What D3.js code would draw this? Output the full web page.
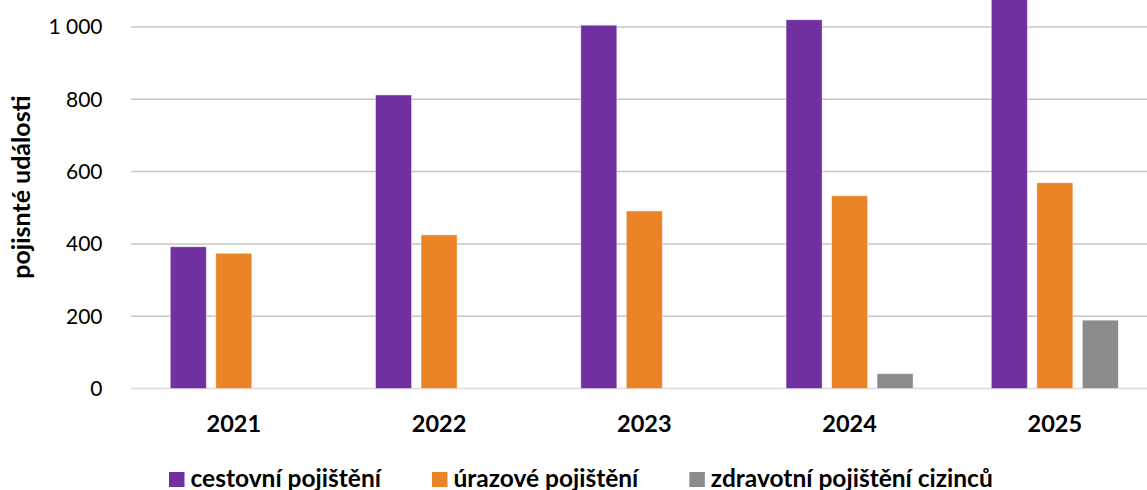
<!DOCTYPE html>
<html>
<head>
<meta charset="utf-8">
<script src="https://cdn.jsdelivr.net/npm/d3@7"></script>
<style>
  body { margin: 0; background: #fff; }
  svg { display: block; font-family: Lato, "Open Sans", sans-serif; }
</style>
</head>
<body>
<svg id="chart" width="1147" height="490"></svg>
<script>
var years = ['2021', '2022', '2023', '2024', '2025'];
var seriesNames = ['cestovní pojištění', 'úrazové pojištění', 'zdravotní pojištění cizinců'];
var cestovni = [392, 812, 1005, 1020, 1130];
var urazove = [374, 425, 491, 533, 569];
var zdravotni = [0, 0, 0, 41, 189];
var yTicks = [0, 200, 400, 600, 800, 1000];
var colors = ['#7030a0', '#ea8426', '#8b8c8e'];

var values = [cestovni, urazove, zdravotni];

var svg = d3.select('#chart');
var width = 1147;

var x = d3.scaleBand().domain(years).range([131.2, 1157.5]).padding(0);
var xs = d3.scaleBand().domain(seriesNames).range([39.1, 166.1]).paddingInner(0.209).paddingOuter(0);
var y = d3.scaleLinear().domain([0, 1000]).range([388.5, 27]);

var fmt = d3.formatLocale({ decimal: ',', thousands: ' ', grouping: [3], currency: ['', ''] }).format(',d');

// gridlines
var grid = svg.append('g').attr('class', 'grid');
grid.selectAll('line')
  .data(yTicks)
  .enter()
  .append('line')
  .attr('x1', 131)
  .attr('x2', width)
  .attr('y1', function(d) { return y(d); })
  .attr('y2', function(d) { return y(d); })
  .attr('stroke', function(d) { return d === 0 ? '#d9d9d9' : '#c6c6c6'; })
  .attr('stroke-width', 1.5);

// y tick labels
svg.append('g').selectAll('text')
  .data(yTicks)
  .enter()
  .append('text')
  .attr('x', 102.5)
  .attr('y', function(d) { return y(d); })
  .attr('dy', '0.35em')
  .attr('text-anchor', 'end')
  .attr('font-size', 21)
  .attr('fill', '#000')
  .text(function(d) { return fmt(d); });

// bars
var groups = svg.append('g').selectAll('g')
  .data(seriesNames)
  .enter()
  .append('g')
  .attr('fill', function(d, i) { return colors[i]; });

groups.selectAll('rect')
  .data(function(d, i) {
    return years.map(function(yr, j) { return { year: yr, series: d, value: values[i][j] }; });
  })
  .enter()
  .filter(function(d) { return d.value > 0; })
  .append('rect')
  .attr('x', function(d) { return x(d.year) + xs(d.series); })
  .attr('width', xs.bandwidth())
  .attr('y', function(d) { return y(d.value); })
  .attr('height', function(d) { return y(0) - y(d.value); })
  .attr('stroke', '#fff')
  .attr('stroke-opacity', 0.5)
  .attr('stroke-width', 0.8);

// category labels
svg.append('g').selectAll('text')
  .data(years)
  .enter()
  .append('text')
  .attr('x', function(d) { return x(d) + xs(seriesNames[0]) + 63.5; })
  .attr('y', 432)
  .attr('text-anchor', 'middle')
  .attr('font-size', 23.5)
  .attr('font-weight', 'bold')
  .attr('fill', '#000')
  .text(function(d) { return d; });

// y axis title
svg.append('text')
  .attr('transform', 'translate(30,187) rotate(-90)')
  .attr('text-anchor', 'middle')
  .attr('font-size', 25)
  .attr('font-weight', 'bold')
  .attr('fill', '#000')
  .text('pojisnté události');

// legend
var legend = svg.append('g').attr('class', 'legend');
var lx = 169;
seriesNames.forEach(function(name, i) {
  legend.append('rect')
    .attr('x', lx)
    .attr('y', 472)
    .attr('width', 15.5)
    .attr('height', 15)
    .attr('fill', colors[i]);
  var t = legend.append('text')
    .attr('x', lx + 21.5)
    .attr('y', 486.5)
    .attr('font-size', 24.5)
    .attr('font-weight', 'bold')
    .attr('fill', '#000')
    .text(name);
  lx = lx + 21.5 + t.node().getComputedTextLength() + 51;
});
</script>
</body>
</html>
